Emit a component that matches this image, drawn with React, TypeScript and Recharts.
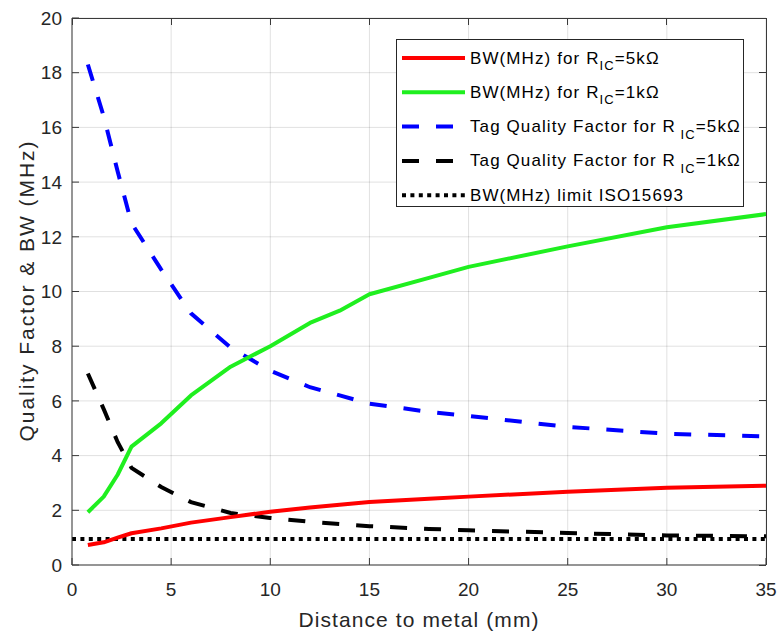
import { LineChart, Line, XAxis, YAxis, CartesianGrid, Legend } from "recharts";

// distance to metal (mm)
const DISTANCE = [0.8, 1.6, 2.3, 3, 4.5, 6, 8, 10, 12, 13.5, 15, 18, 20, 25, 30, 35];
const BW_5K = [0.73, 0.83, 1.0, 1.16, 1.34, 1.55, 1.75, 1.95, 2.1, 2.2, 2.3, 2.42, 2.5, 2.68, 2.82, 2.9];
const BW_1K = [1.93, 2.5, 3.3, 4.33, 5.18, 6.2, 7.25, 8.0, 8.85, 9.3, 9.9, 10.5, 10.9, 11.65, 12.35, 12.83];
const Q_5K = [18.3, 16.4, 14.4, 12.5, 10.8, 9.2, 7.95, 7.1, 6.5, 6.2, 5.9, 5.6, 5.45, 5.05, 4.8, 4.7];
const Q_1K = [7.0, 5.7, 4.5, 3.55, 2.85, 2.3, 1.9, 1.72, 1.58, 1.5, 1.42, 1.32, 1.27, 1.17, 1.08, 1.05];
const LIMIT_X = [0, 35];
const LIMIT_Y = [0.95, 0.95];

const X_TICKS = [0, 5, 10, 15, 20, 25, 30, 35];
const Y_TICKS = [0, 2, 4, 6, 8, 10, 12, 14, 16, 18, 20];
const X_MAX = 35;
const Y_MAX = 20;

const LEGEND_ITEMS = [
  { head: "BW(MHz) for R", sub: "IC", tail: "=5k\u03a9", color: "#ff0000", dash: undefined },
  { head: "BW(MHz) for R", sub: "IC", tail: "=1k\u03a9", color: "#1fef1f", dash: undefined },
  { head: "Tag Quality Factor for R", sub: " IC", tail: "=5k\u03a9", color: "#0000ff", dash: "17 17" },
  { head: "Tag Quality Factor for R", sub: " IC", tail: "=1k\u03a9", color: "#000000", dash: "17 17" },
  { head: "BW(MHz) limit ISO15693", sub: "", tail: "", color: "#000000", dash: "4 4.4" },
];

const FONT = "'Liberation Sans', Arial, Helvetica, sans-serif";
const AXIS_COLOR = "#3a3a3a";
const TEXT_COLOR = "#262626";

// plot box (matches chart margins + axis sizes below)
const BOX = { left: 72, top: 18, width: 694, height: 547 };

const data = DISTANCE.map((d, i) => ({
  d,
  bw5: BW_5K[i],
  bw1: BW_1K[i],
  q5: Q_5K[i],
  q1: Q_1K[i],
}));
const limitData = LIMIT_X.map((d, i) => ({ d, lim: LIMIT_Y[i] }));

function LegendBox() {
  return (
    <svg width={348} height={168} style={{ display: "block" }}>
      <rect x={0.5} y={0.5} width={347} height={167} fill="#fff" stroke="#262626" strokeWidth={1} />
      {LEGEND_ITEMS.map((it, i) => {
        const cy = 19 + i * 34.3;
        return (
          <g key={i}>
            <line x1={6} x2={69} y1={cy} y2={cy} stroke={it.color} strokeWidth={4} strokeDasharray={it.dash} />
            <text x={74} y={cy + 5.5} fontSize={17} letterSpacing={1.1} fontFamily={FONT} fill="#000">
              {it.head}
              {it.sub && (
                <tspan fontSize={13} dy={6.5}>{it.sub}</tspan>
              )}
              {it.tail && (
                <tspan fontSize={17} dy={-6.5}>{it.tail}</tspan>
              )}
            </text>
          </g>
        );
      })}
    </svg>
  );
}

// top and right edges of the axes box, with inward ticks (MATLAB "box on")
function BoxFrame() {
  return (
    <svg
      width={782}
      height={642}
      style={{ position: "absolute", left: 0, top: 0, pointerEvents: "none" }}
    >
      <g stroke={AXIS_COLOR} strokeWidth={1} shapeRendering="crispEdges">
        <line x1={BOX.left} x2={BOX.left + BOX.width} y1={BOX.top} y2={BOX.top} />
        <line x1={BOX.left + BOX.width} x2={BOX.left + BOX.width} y1={BOX.top} y2={BOX.top + BOX.height} />
        {X_TICKS.map((t) => {
          const x = BOX.left + (t / X_MAX) * BOX.width;
          return <line key={`tx${t}`} x1={x} x2={x} y1={BOX.top} y2={BOX.top + 7} />;
        })}
        {Y_TICKS.map((t) => {
          const y = BOX.top + BOX.height - (t / Y_MAX) * BOX.height;
          return <line key={`ty${t}`} x1={BOX.left + BOX.width - 7} x2={BOX.left + BOX.width} y1={y} y2={y} />;
        })}
      </g>
    </svg>
  );
}

export default function App() {
  return (
    <div style={{ position: "fixed", left: 0, top: 0, width: 782, height: 642, background: "#fff" }}>
      <LineChart
        width={782}
        height={642}
        data={data}
        margin={{ top: BOX.top, right: 782 - BOX.left - BOX.width, bottom: 0, left: 0 }}
      >
        <CartesianGrid stroke="#000" strokeOpacity={0.12} strokeWidth={1} />
        <XAxis
          dataKey="d"
          type="number"
          domain={[0, X_MAX]}
          ticks={X_TICKS}
          height={642 - BOX.top - BOX.height}
          allowDataOverflow
          stroke={AXIS_COLOR}
          tickSize={-7}
          tickMargin={25}
          tick={{ fill: TEXT_COLOR, fontSize: 19, fontFamily: FONT }}
          label={{
            content: ({ viewBox }: any) => (
              <text
                x={viewBox.x + viewBox.width / 2}
                y={viewBox.y + 62}
                textAnchor="middle"
                fontSize={21}
                letterSpacing={1.1}
                fontFamily={FONT}
                fill={TEXT_COLOR}
              >
                Distance to metal (mm)
              </text>
            ),
          }}
        />
        <YAxis
          type="number"
          domain={[0, Y_MAX]}
          ticks={Y_TICKS}
          width={BOX.left}
          allowDataOverflow
          stroke={AXIS_COLOR}
          tickSize={-7}
          tickMargin={17}
          tick={{ fill: TEXT_COLOR, fontSize: 19, fontFamily: FONT }}
          label={{
            content: ({ viewBox }: any) => {
              const cx = 26;
              const cy = viewBox.y + viewBox.height / 2;
              return (
                <text
                  x={cx}
                  y={cy}
                  transform={`rotate(-90, ${cx}, ${cy})`}
                  textAnchor="middle"
                  dominantBaseline="central"
                  fontSize={21}
                  textLength={300}
                  lengthAdjust="spacing"
                  fontFamily={FONT}
                  fill={TEXT_COLOR}
                >
                  Quality Factor &amp; BW (MHz)
                </text>
              );
            },
          }}
        />
        <Line
          data={limitData}
          dataKey="lim"
          type="linear"
          stroke="#000"
          strokeWidth={4}
          strokeDasharray="4 4.4"
          dot={false}
          isAnimationActive={false}
        />
        <Line dataKey="q1" type="linear" stroke="#000" strokeWidth={4} strokeDasharray="17 17" dot={false} isAnimationActive={false} />
        <Line dataKey="q5" type="linear" stroke="#0000ff" strokeWidth={4} strokeDasharray="17 17" dot={false} isAnimationActive={false} />
        <Line dataKey="bw5" type="linear" stroke="#ff0000" strokeWidth={4} strokeLinejoin="round" dot={false} isAnimationActive={false} />
        <Line dataKey="bw1" type="linear" stroke="#1fef1f" strokeWidth={4} strokeLinejoin="round" dot={false} isAnimationActive={false} />
        <Legend
          layout="vertical"
          align="center"
          verticalAlign="middle"
          content={() => <LegendBox />}
          wrapperStyle={{ position: "absolute", left: 396, top: 39, width: 348, height: 168, zIndex: 2 }}
        />
      </LineChart>
      <BoxFrame />
    </div>
  );
}
